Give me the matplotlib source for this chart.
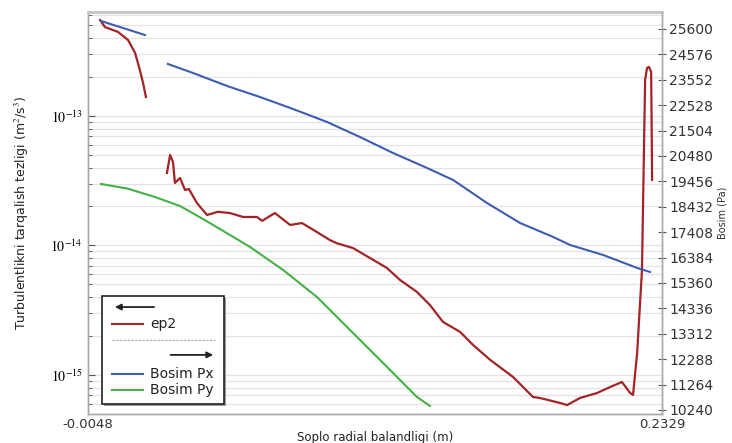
import numpy as np
import matplotlib
matplotlib.use("Agg")
import matplotlib.pyplot as plt
from matplotlib.ticker import FixedLocator, NullFormatter, FuncFormatter

plt.rcParams['font.family'] = ['DejaVu Sans']
plt.rcParams['mathtext.fontset'] = 'stix'

# ep2 (left axis, log scale) - two pieces
ep2_x1 = [0.0002, 0.0022, 0.0076, 0.0118, 0.0147, 0.0167, 0.0180, 0.0192]
ep2_y1 = [5.51e-13, 4.86e-13, 4.46e-13, 3.86e-13, 3.07e-13, 2.26e-13, 1.80e-13, 1.40e-13]

ep2_x2 = [0.0279, 0.0292, 0.0304, 0.0312, 0.0333, 0.0354, 0.0370, 0.0403, 0.0445,
          0.0490, 0.0540, 0.0594, 0.0652, 0.0673, 0.0726, 0.0789, 0.0838, 0.0900,
          0.0954, 0.0983, 0.1049, 0.1120, 0.1190, 0.1244, 0.1314, 0.1368, 0.1422,
          0.1493, 0.1546, 0.1617, 0.1712, 0.1795, 0.1824, 0.1907, 0.1936, 0.1989,
          0.2060, 0.2114, 0.2163, 0.2197, 0.2209, 0.2226, 0.2246, 0.2259, 0.2267,
          0.2275, 0.2284, 0.2288]
ep2_y2 = [3.63e-14, 5.00e-14, 4.41e-14, 3.04e-14, 3.32e-14, 2.68e-14, 2.73e-14, 2.13e-14, 1.72e-14,
          1.82e-14, 1.78e-14, 1.66e-14, 1.66e-14, 1.55e-14, 1.78e-14, 1.44e-14, 1.49e-14, 1.27e-14,
          1.10e-14, 1.04e-14, 9.56e-15, 8.00e-15, 6.70e-15, 5.42e-15, 4.38e-15, 3.47e-15, 2.57e-15,
          2.15e-15, 1.71e-15, 1.31e-15, 9.66e-16, 6.76e-16, 6.64e-16, 6.08e-16, 5.86e-16, 6.64e-16,
          7.26e-16, 8.07e-16, 8.83e-16, 7.26e-16, 7.02e-16, 1.48e-15, 6.47e-15, 1.90e-13, 2.35e-13,
          2.39e-13, 2.19e-13, 3.21e-14]

# Bosim Px (right axis, Pa)
px_x1 = [0.0006, 0.0188]
px_y1 = [25922, 25358]
px_x2 = [0.0283, 0.0387, 0.0528, 0.0664, 0.0801, 0.0942, 0.1078, 0.1215, 0.1356,
         0.1464, 0.1604, 0.1741, 0.1878, 0.1948, 0.2085, 0.2226, 0.2279]
px_y2 = [24189, 23826, 23302, 22859, 22375, 21851, 21247, 20602, 19997,
         19513, 18586, 17780, 17216, 16893, 16490, 15966, 15805]

# Bosim Py (right axis, Pa)
py_x = [0.0006, 0.0118, 0.0229, 0.0333, 0.0428, 0.0519, 0.0623, 0.0760,
        0.0900, 0.1037, 0.1174, 0.1314, 0.1368]
py_y = [19352, 19160, 18828, 18464, 17941, 17417, 16812, 15885,
        14797, 13466, 12136, 10765, 10403]

pa_ticks = [10240, 11264, 12288, 13312, 14336, 15360, 16384, 17408,
            18432, 19456, 20480, 21504, 22528, 23552, 24576, 25600]
log_major = [1e-15, 1e-14, 1e-13]
log_minor = [m * 10.0 ** e for e in (-16, -15, -14, -13) for m in range(2, 10)
             if 5.0e-16 <= m * 10.0 ** e <= 6.35e-13]
x_ticks = [-0.0048, 0.2329]

red = '#a32326'
blue = '#3d5cb3'
green = '#45b045'
spine_col = '#a8a8a8'

fig = plt.figure(figsize=(7.32, 4.43), dpi=100)
ax = fig.add_axes([0.1202, 0.0655, 0.7842, 0.9074])
ax2 = ax.twinx()

ax.set_yscale('log')
ax.set_ylim(5.0e-16, 6.35e-13)
ax.set_xlim(-0.0048, 0.2329)
ax2.set_ylim(10079, 26285)

ax.plot(ep2_x1, ep2_y1, color=red, lw=1.6)
ax.plot(ep2_x2, ep2_y2, color=red, lw=1.6)
ax2.plot(px_x1, px_y1, color=blue, lw=1.5)
ax2.plot(px_x2, px_y2, color=blue, lw=1.5)
ax2.plot(py_x, py_y, color=green, lw=1.5)

# log grid on the left axis
ax.yaxis.set_major_locator(FixedLocator(log_major))
ax.yaxis.set_minor_locator(FixedLocator(log_minor))
ax.yaxis.set_minor_formatter(NullFormatter())
ax.yaxis.set_major_formatter(FuncFormatter(lambda v, p: r'$10^{%d}$' % round(np.log10(v))))
ax.grid(True, which='both', axis='y', color='#e3e3e3', lw=0.9)
ax.set_axisbelow(True)

ax.tick_params(axis='y', which='major', direction='in', length=5, color='#555555',
               labelsize=10, pad=4)
ax.tick_params(axis='y', which='minor', direction='in', length=3, color='#555555')
ax.xaxis.set_major_locator(FixedLocator(x_ticks))
ax.set_xticklabels(['-0.0048', '0.2329'])
ax.tick_params(axis='x', length=0, labelsize=9.5, pad=3, labelcolor='#333333')

ax2.yaxis.set_major_locator(FixedLocator(pa_ticks))
ax2.tick_params(axis='y', direction='inout', length=6, color='#555555',
                labelsize=10, labelcolor='#333333', pad=2)

for a in (ax, ax2):
    for s in a.spines.values():
        s.set_color(spine_col)
        s.set_linewidth(1.0)
ax2.spines['top'].set_linewidth(2.0)
ax2.spines['top'].set_color('#c4c4c4')

ax.set_xlabel('Soplo radial balandligi (m)', fontsize=8.5, color='#222222', labelpad=0)
ax.set_ylabel('Turbulentlikni tarqalish tezligi (m$^2$/s$^3$)', fontsize=9,
              color='#222222', labelpad=14)
ax2.set_ylabel('Bosim (Pa)', fontsize=7, color='#333333', labelpad=3)

# legend box with direction arrows
T = ax.transAxes
box = plt.Rectangle((0.0244, 0.0249), 0.2125, 0.2686, transform=T, facecolor='white',
                    edgecolor='#222222', lw=1.2, zorder=10)
shadow = plt.Rectangle((0.0244 + 0.004, 0.0249 - 0.006), 0.2125, 0.2686, transform=T,
                       facecolor='#9a9a9a', edgecolor='none', zorder=9)
ax.add_patch(shadow)
ax.add_patch(box)
ax.annotate('', xy=(0.042, 0.266), xytext=(0.120, 0.266), xycoords=T,
            arrowprops=dict(arrowstyle='-|>', color='#222222', lw=1.3, mutation_scale=9),
            zorder=11)
ax.annotate('', xy=(0.223, 0.147), xytext=(0.139, 0.147), xycoords=T,
            arrowprops=dict(arrowstyle='-|>', color='#222222', lw=1.3, mutation_scale=9),
            zorder=11)
ax.plot([0.042, 0.222], [0.184, 0.184], transform=T, color='#b0b0b0', lw=0.9,
        ls=(0, (2, 1)), zorder=11)
rows = [(0.224, red, 'ep2'), (0.0995, blue, 'Bosim Px'), (0.060, green, 'Bosim Py')]
for yy, col, lab in rows:
    ax.plot([0.042, 0.096], [yy, yy], transform=T, color=col, lw=1.5, zorder=11)
    ax.text(0.108, yy, lab, transform=T, fontsize=10, va='center', ha='left',
            color='#222222', zorder=11)

fig.savefig('out.png', dpi=100)
